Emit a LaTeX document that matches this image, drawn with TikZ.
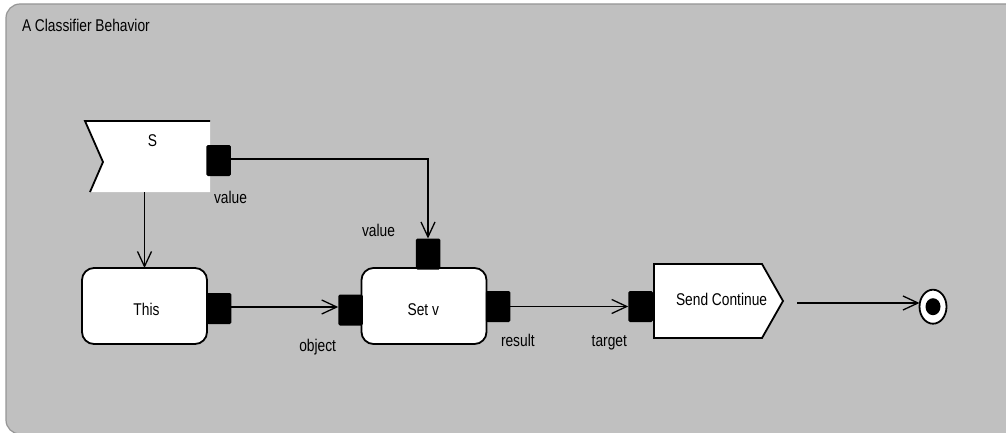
\documentclass[tikz,border=0pt]{standalone}
\usepackage{fontspec}
\setmainfont[FakeStretch=0.81]{Liberation Sans}
\usetikzlibrary{arrows.meta,calc,shapes.geometric}
\definecolor{framefill}{RGB}{192,192,192}
\definecolor{frameline}{RGB}{150,150,150}
\begin{document}
\begin{tikzpicture}[x=1pt,y=-1pt,
  every node/.style={font=\fontsize{17}{20}\selectfont, inner sep=0pt, outer sep=0pt},
  actbox/.style={draw=black, line width=1.8pt, fill=white, rounded corners=12pt, minimum width=125pt, minimum height=76pt},
  pinbox/.style={fill=black, rounded corners=1.5pt, minimum width=24.5pt, minimum height=31pt},
  ghost/.style={minimum width=#1pt, minimum height=71pt},
  lbl/.style={anchor=base west},
  ctext/.style={anchor=base},
  flowline/.style={line width=1.3pt, -{Straight Barb[length=15pt,width=14pt,line width=1.3pt]}},
  plainline/.style={line width=1.3pt},
  shapeline/.style={line width=1.8pt, line join=miter}]
\useasboundingbox (0,0) rectangle (1006,433);
\begin{scope}
\clip (0,0) rectangle (1006,433);
\draw[draw=frameline, fill=framefill, line width=1.2pt, rounded corners=14pt] (6,4) rectangle (1040,434);
\end{scope}
\node[lbl] (title) at (22,32) {A Classifier Behavior};

% accept event S
\node[ghost=125] (S) at (147.5,156.5) {};
\fill[white] (85,121) -- (210,121) -- (210,192) -- (90,192) -- (103,162) -- cycle;
\draw[shapeline] (210,121) -- (85,121) -- (103,162) -- (90,192);
\node[ctext] (Stext) at (152.5,146.5) {S};
\node[pinbox] (Spin) at (218.5,160.5) {};
\node[lbl] (Sval) at (214,203) {value};

% This
\node[actbox] (This) at (144.5,306) {};
\node[ctext] (Thistext) at (146.5,315) {This};
\node[pinbox] (Thispin) at (219,308.5) {};

% Set v
\node[actbox] (Setv) at (424,306) {};
\node[ctext] (Setvtext) at (423.3,315) {Set v};
\node[pinbox] (objpin) at (350.5,310) {};
\node[pinbox] (valpin) at (428,254) {};
\node[pinbox] (respin) at (498,306.5) {};
\node[lbl] (objlbl) at (299.3,351) {object};
\node[lbl] (vallbl) at (362,236.7) {value};
\node[lbl] (reslbl) at (501,346) {result};

% Send Continue
\node[minimum width=129pt, minimum height=74pt] (SC) at (718.5,301) {};
\draw[shapeline, fill=white] (654,264) -- (762,264) -- (783,301) -- (762,338) -- (654,338) -- cycle;
\node[lbl] (SCtext) at (676,305.7) {Send Continue};
\node[pinbox] (tgtpin) at (640.5,306.5) {};
\node[lbl] (tgtlbl) at (591.7,346) {target};

% final node
\node[draw=black, line width=1.8pt, fill=white, ellipse, minimum width=27pt, minimum height=34pt] (final) at (933,306.7) {};
\fill[black] (final.center) ellipse [x radius=7.5, y radius=8.5];

% connectors
\draw[flowline] (This.north |- S.south) -- (This.north);
\draw[flowline] (Spin.east |- 0,159) -| (valpin.north);
\draw[flowline] (Thispin.east |- 0,307) -- (objpin.west |- 0,307);
\draw[flowline] (respin.east) -- (tgtpin.west);
\coordinate (scout) at (797,303);
\draw[flowline] (scout) -- (final.west |- scout);
\end{tikzpicture}
\end{document}
